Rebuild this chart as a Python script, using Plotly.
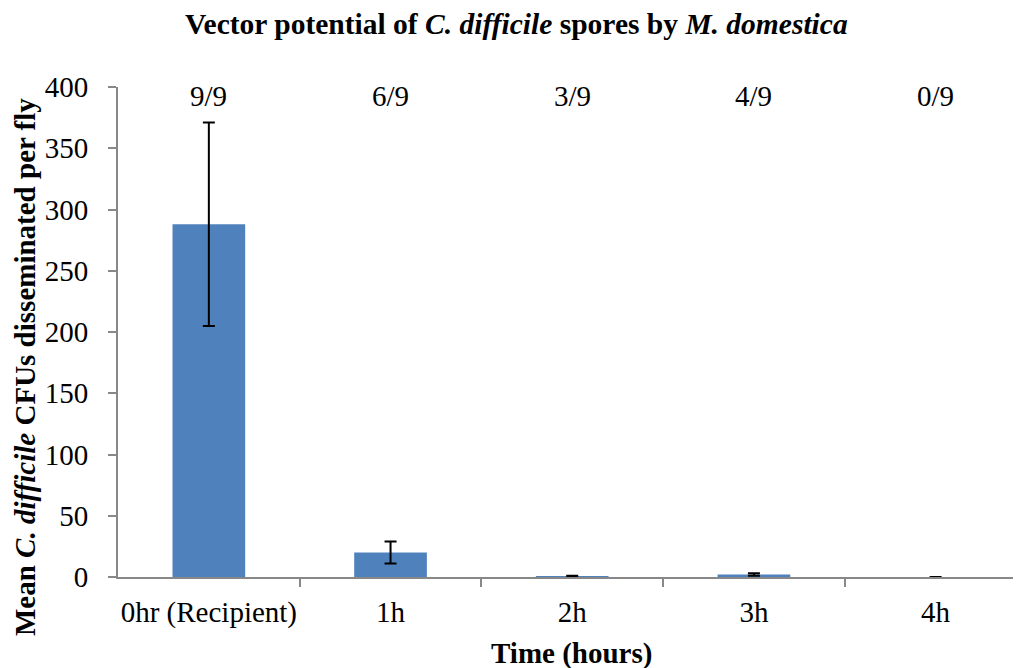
import plotly.graph_objects as go

categories = ["0hr (Recipient)", "1h", "2h", "3h", "4h"]
means = [288, 20, 0.6, 2.0, 0]
errors = [83, 9, 0.4, 1.0, 0]
counts = ["9/9", "6/9", "3/9", "4/9", "0/9"]

xpos = list(range(len(categories)))
FONT = "Liberation Serif, Times New Roman, serif"
OFF = 8  # page body margin
W, H = 1021 - OFF, 668 - OFF
ML, MR, MT, MB = 118 - OFF, 0, 87 - OFF, 668 - 577
PW, PH = W - ML - MR, H - MT - MB


def px_x(x):
    return (x - OFF - ML) / PW


def px_y(y):
    return (H - MB - (y - OFF)) / PH


fig = go.Figure()
fig.add_trace(go.Bar(
    x=xpos, y=means, width=0.4,
    marker=dict(color="#4F81BD", line=dict(width=0)),
    error_y=dict(type="data", array=errors, visible=True, color="black",
                 thickness=2, width=6),
    showlegend=False,
))

for xi, c in zip(xpos, counts):
    fig.add_annotation(x=xi, y=px_y(96), xref="x", yref="paper", text=c,
                       showarrow=False, yanchor="middle",
                       font=dict(family=FONT, size=29, color="black"))

fig.update_layout(
    width=W, height=H,
    margin=dict(l=ML, r=MR, t=MT, b=MB),
    paper_bgcolor="white", plot_bgcolor="white",
    font=dict(family=FONT, size=29, color="black"),
    bargap=0.6,
)

fig.update_xaxes(
    range=[-0.5, 4.47], automargin=False,
    tickmode="array", tickvals=xpos, ticktext=categories,
    showline=True, linecolor="#888888", linewidth=2,
    ticks="", showgrid=False, zeroline=False,
    tickfont=dict(family=FONT, size=29, color="black"),
    ticklabelstandoff=8,
)
fig.update_xaxes(minor=dict(tickmode="array", tickvals=[0.5, 1.5, 2.5, 3.5],
                            ticks="outside", ticklen=8, tickcolor="#888888", tickwidth=2))

fig.update_yaxes(
    range=[0, 400], dtick=50, automargin=False,
    showline=True, linecolor="#888888", linewidth=2,
    ticks="outside", ticklen=8, tickcolor="#888888", tickwidth=2,
    showgrid=False, zeroline=False,
    tickfont=dict(family=FONT, size=29, color="black"),
    ticklabelstandoff=14,
)

fig.add_annotation(x=px_x(516), y=px_y(24), xref="paper", yref="paper",
                   text="<b>Vector potential of <i>C. difficile</i> spores by <i>M. domestica</i></b>",
                   showarrow=False, xanchor="center", yanchor="middle",
                   font=dict(family=FONT, size=29.5, color="black"))
fig.add_annotation(x=px_x(571), y=px_y(653), xref="paper", yref="paper",
                   text="<b>Time (hours)</b>", showarrow=False,
                   xanchor="center", yanchor="middle",
                   font=dict(family=FONT, size=29, color="black"))
fig.add_annotation(x=px_x(25), y=px_y(367), xref="paper", yref="paper",
                   text="<b>Mean <i>C. difficile</i> CFUs disseminated per fly</b>",
                   showarrow=False, textangle=-90,
                   xanchor="center", yanchor="middle",
                   font=dict(family=FONT, size=29, color="black"))

fig.write_html("out.html")
